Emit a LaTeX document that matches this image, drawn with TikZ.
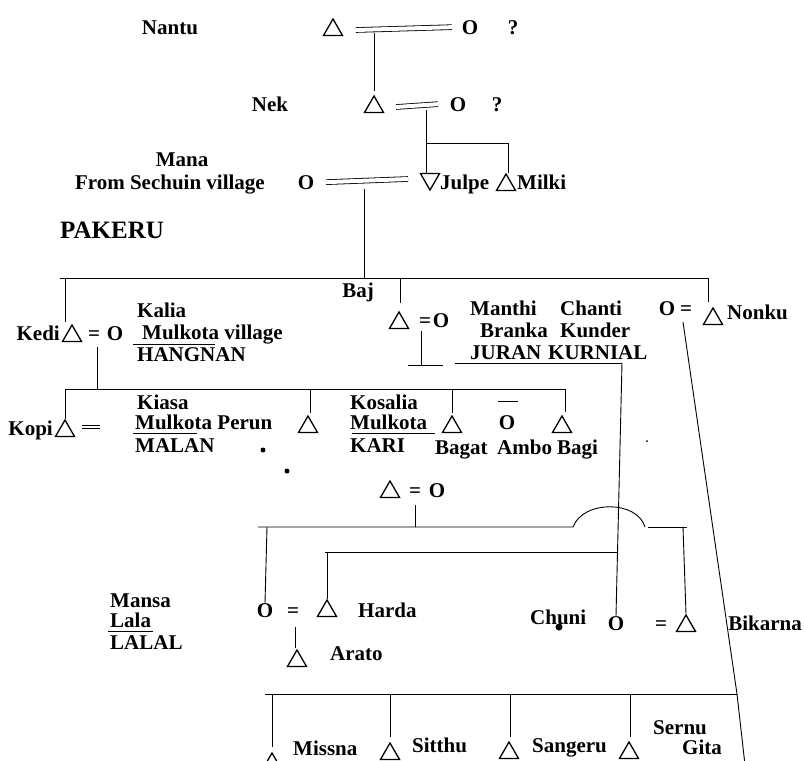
\documentclass[tikz,border=0pt]{standalone}
\usepackage{fontspec}
\setmainfont{Liberation Serif}
\usetikzlibrary{shapes.geometric}
\tikzset{
  lbl/.style={font=\fontsize{21}{23}\selectfont\bfseries, inner sep=0pt, anchor=base},
  lblw/.style={lbl, anchor=base west},
  lble/.style={lbl, anchor=base east},
  big/.style={font=\fontsize{25}{28}\selectfont\bfseries, inner sep=0pt, anchor=base},
  tri/.style={regular polygon, regular polygon sides=3, draw, line width=1.3pt, minimum size=22pt, inner sep=0pt},
  vtri/.style={tri, shape border rotate=180},
  ln/.style={line width=0.9pt},
  marr/.style={double, double distance=4pt, line width=0.8pt},
  spot/.style={circle, fill, inner sep=0pt, minimum size=5pt},
}
\begin{document}
\begin{tikzpicture}[x=1pt, y=-1pt]
\useasboundingbox (0,0) rectangle (804,761);
\clip (0,0) rectangle (804,761);
% generation 1
\node[lbl] (nantu) at (170,34) {Nantu};
\node[tri] (t1) at (333,30) {};
\node[lbl] (o1) at (470,34) {O};
\node[lbl] (q1) at (513,34) {?};
\draw[marr] ([xshift=23pt]t1.center) -- ([xshift=-18pt]o1.center) coordinate[pos=0.2] (m1);
% generation 2
\node[lbl] (nek) at (270,111) {Nek};
\node[tri] (t2) at (374,107) {};
\node[lbl] (o2) at (458,111) {O};
\node[lbl] (q2) at (497,111) {?};
\draw[marr] ([xshift=22pt]t2.center) -- ([xshift=-20pt]o2.center) coordinate[pos=0.73] (m2);
\draw[ln, shorten >=4pt] ([yshift=-4pt]t2.north |- m1) -- (t2.north);
% generation 3
\node[lbl] (mana) at (182,166) {Mana};
\node[lble] (sech) at (265,189) {From Sechuin village};
\node[lbl] (o3) at (306,189) {O};
\node[vtri] (julpeT) at (430,179) {};
\node[lblw] (julpe) at (440,189) {Julpe};
\node[tri] (milkiT) at (506,185) {};
\node[lblw] (milki) at (517,189) {Milki};
\draw[marr] ([xshift=20pt]o3.center) -- ([xshift=-22pt]julpeT.center) coordinate[pos=0.47] (m3);
\coordinate (j1) at (426,143);
\coordinate (j2) at (508,143);
\draw[ln] ([yshift=-5pt]m2) -- (m2 |- julpeT.north);
\draw[ln] (j1) -- (j2) -- (j2 |- milkiT.north);
% PAKERU
\node[big] (pakeru) at (112,238) {PAKERU};
\coordinate (s0) at (60,278);
\coordinate (s1) at (708,278);
\draw[ln] ([yshift=-8pt]m3) -- (m3 |- s0);
\draw[ln] (s0) -- (s1);
\node[lbl] (baj) at (358,297) {Baj};
% Kedi
\node[lble] (kedi) at (60,340) {Kedi};
\node[tri] (kediT) at (72,336) {};
\node[lbl] (kedieq) at (94,340) {=};
\node[lbl] (kalia) at (115,340) {O};
\draw[ln] (65,278) -- (65,322);
\node[lblw] (kalia1) at (137,317) {Kalia};
\node[lblw] (kalia2) at (142,339) {Mulkota village};
\node[lblw] (kalia3) at (137,361) {HANGNAN};
\draw[ln] (133,344) -- (215,344);
% Baj
\node[tri] (bajT) at (399,323) {};
\node[lbl] (bajeq) at (425,327) {=};
\node[lbl] (bajO) at (441,327) {O};
\draw[ln] (400,278) -- (400,303);
\coordinate (bj1) at (421,331);
\coordinate (bj2) at (421,365);
\draw[ln] (bj1) -- (bj2);
\draw[ln] (408,365) -- (443,365);
\coordinate (ju0) at (455,363);
\coordinate (ju1) at (622,363);
\draw[ln] (ju0) -- (ju1);
\node[lblw] (manthi) at (470,315) {Manthi};
\node[lblw] (chanti) at (560,315) {Chanti};
\node[lblw] (branka) at (480,337) {Branka};
\node[lblw] (kunder) at (560,337) {Kunder};
\node[lblw] (juran) at (470,359) {JURAN};
\node[lblw] (kurnial) at (548,359) {KURNIAL};
% Nonku
\node[lbl] (nonkuO) at (667,315) {O};
\node[lbl] (nonkueq) at (686,315) {=};
\node[tri] (nonkuT) at (713,319) {};
\node[lblw] (nonku) at (727,319) {Nonku};
\draw[ln] (708,278) -- (708,302);
% Kopi generation
\coordinate (k0) at (65,389);
\coordinate (k1) at (565,389);
\draw[ln] (97,347) -- (97,389);
\draw[ln] (k0) -- (k1);
\node[lble] (kopi) at (53,435) {Kopi};
\node[tri] (kopiT) at (65,431) {};
\draw[ln] (k0) -- (kopiT.north);
\draw[double, double distance=2.5pt, line width=1.1pt] (82,427) -- (100,427);
\node[lblw] (kiasa1) at (137,409) {Kiasa};
\node[lblw] (kiasa2) at (135,429) {Mulkota Perun};
\node[lblw] (kiasa3) at (135,452) {MALAN};
\draw[ln] (133,433) -- (197,433);
\node[spot] (d1) at (263,450) {};
\node[spot] (d2) at (287,471) {};
\node[tri] (m4T) at (308,427) {};
\draw[ln] (310,389) -- (310,413);
\node[lblw] (kos1) at (350,409) {Kosalia};
\node[lblw] (kos2) at (350,429) {Mulkota};
\node[lblw] (kos3) at (350,452) {KARI};
\draw[ln] (352,433) -- (435,433);
\node[tri] (bagatT) at (452,427) {};
\draw[ln] (452,389) -- (452,413);
\node[lblw] (bagat) at (435,454) {Bagat};
\node[lbl] (amboO) at (507,429) {O};
\draw[ln] (498,401) -- (518,401);
\node[lblw] (ambo) at (497,454) {Ambo};
\node[tri] (bagiT) at (562,427) {};
\draw[ln] (k1) -- (565,412);
\node[lblw] (bagi) at (557,454) {Bagi};
\node[circle, fill, inner sep=0pt, minimum size=2pt] (sp1) at (647,441) {};
% couple triangle = O
\node[tri] (cT) at (390,492) {};
\node[lbl] (ceq) at (415,497) {=};
\node[lbl] (cO) at (437,497) {O};
\coordinate (h0) at (258,527);
\coordinate (h1) at (573,527);
\coordinate (h2) at (645,527);
\coordinate (h3) at (648,527);
\coordinate (h4) at (687,527);
\draw[ln] (415,505) -- (415,527);
\draw[ln] (h0) -- (h1) .. controls (583,500) and (637,500) .. (h2);
\draw[ln] (h3) -- (h4);
% Harda
\node[lbl] (hO) at (265,617) {O};
\node[lbl] (heq) at (293,617) {=};
\node[tri] (hT) at (327,611) {};
\node[lblw] (harda) at (358,617) {Harda};
\draw[ln] (267,527) -- (hO.north);
\coordinate (hh0) at (325,552);
\coordinate (hh1) at (618,552);
\draw[ln] (hh0) -- (hh1);
\draw[ln] (327,552) -- (hT.north);
\draw[ln] (295,627) -- (295,648);
\node[tri] (aT) at (297,661) {};
\node[lblw] (arato) at (330,660) {Arato};
\node[lblw] (mansa) at (110,607) {Mansa};
\node[lblw] (lala) at (110,627) {Lala};
\node[lblw] (lalal) at (110,649) {LALAL};
\draw[ln] (108,631) -- (153,631);
% Chuni
\node[lblw] (chuni) at (530,624) {Chuni};
\node[circle, fill, inner sep=0pt, minimum size=7pt] (d3) at (559,627) {};
\node[lbl] (chO) at (616,630) {O};
\node[lbl] (cheq) at (661,630) {=};
\node[tri] (chT) at (686,626) {};
\draw[ln] (ju1) -- (chO.north);
\draw[ln] (683,527) -- (chT.north);
\node[lble] (bikarna) at (802,630) {Bikarna};
% diagonal
\coordinate (dg0) at (683,322);
\coordinate (dg1) at (737,694);
\coordinate (dg2) at (745,765);
\draw[ln] (dg0) -- (dg1) -- (dg2);
% last generation
\coordinate (b0) at (265,694);
\draw[ln] (b0) -- (dg1);
\node[tri] (missT) at (272,764) {};
\draw[ln] (272,694) -- (272,747);
\node[lblw] (missna) at (293,755) {Missna};
\node[tri] (sittT) at (390,754) {};
\draw[ln] (390,694) -- (390,737);
\node[lblw] (sitthu) at (412,752) {Sitthu};
\node[tri] (sangT) at (509,753) {};
\draw[ln] (510,694) -- (510,737);
\node[lblw] (sangeru) at (532,752) {Sangeru};
\node[tri] (sernT) at (629,753) {};
\draw[ln] (630,694) -- (630,737);
\node[lblw] (sernu) at (653,734) {Sernu};
\node[lblw] (gita) at (682,754) {Gita};
\end{tikzpicture}
\end{document}
